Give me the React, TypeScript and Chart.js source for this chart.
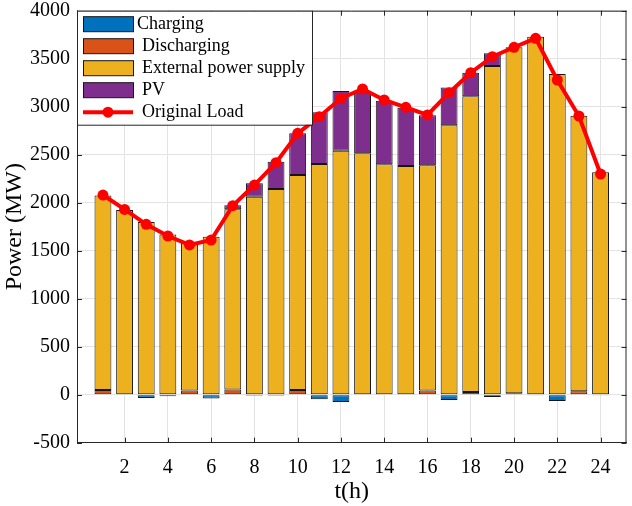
// Hourly power balance: stacked supply bars with the original load curve.

import { useEffect, useRef } from "react";
import { Chart, registerables } from "chart.js";
import type { Plugin } from "chart.js";

Chart.register(...registerables);

const hours = [1, 2, 3, 4, 5, 6, 7, 8, 9, 10, 11, 12, 13, 14, 15, 16, 17, 18, 19, 20, 21, 22, 23, 24];
const charging = [0, 0, -35, -15, 0, -40, 0, -10, -10, 0, -48, -75, 0, 0, 0, 0, -55, 0, -25, 0, -8, -65, 0, -8];
const discharging = [50, 0, 0, 0, 45, 0, 55, 0, 0, 50, 0, 0, 5, 5, 0, 45, 0, 28, 0, 15, 0, 0, 35, 0];
const externalSupply = [2025, 1925, 1800, 1670, 1535, 1645, 1876, 2063, 2143, 2239, 2403, 2542, 2509, 2395, 2382, 2345, 2807, 3080, 3424, 3604, 3729, 3341, 2871, 2317];
const pv = [0, 0, 0, 0, 0, 0, 42, 139, 284, 434, 539, 622, 631, 663, 608, 520, 393, 246, 132, 0, 0, 0, 0, 0];
const originalLoad = [2080, 1930, 1775, 1653, 1560, 1611, 1969, 2184, 2417, 2723, 2896, 3087, 3185, 3070, 2993, 2914, 3146, 3354, 3521, 3619, 3712, 3278, 2903, 2299];
const xTicks = [2, 4, 6, 8, 10, 12, 14, 16, 18, 20, 22, 24];

const FONT = "'Liberation Serif', 'Times New Roman', serif";
const AXIS = "#262626";
const EDGE = "#141414";

const pts = (ys: number[]) => ys.map((y, i) => ({ x: hours[i], y }));

// MATLAB-style box: inward ticks on all four sides, top/right edges, legend inside.
const boxAndLegend: Plugin<"bar"> = {
  id: "boxAndLegend",
  afterDraw(chart) {
    const { ctx, chartArea: a } = chart;
    const xs = chart.scales.x;
    const ys = chart.scales.y;
    ctx.save();
    ctx.strokeStyle = AXIS;
    ctx.lineWidth = 1;
    ctx.beginPath();
    ctx.moveTo(a.left, a.top + 0.5);
    ctx.lineTo(a.right, a.top + 0.5);
    ctx.moveTo(a.right - 0.5, a.top);
    ctx.lineTo(a.right - 0.5, a.bottom);
    for (const t of ys.ticks) {
      const y = Math.round(ys.getPixelForValue(t.value)) + 0.5;
      ctx.moveTo(a.left, y);
      ctx.lineTo(a.left + 5, y);
      ctx.moveTo(a.right, y);
      ctx.lineTo(a.right - 5, y);
    }
    for (const t of xs.ticks) {
      const x = Math.round(xs.getPixelForValue(t.value)) + 0.5;
      ctx.moveTo(x, a.bottom);
      ctx.lineTo(x, a.bottom - 5);
      ctx.moveTo(x, a.top);
      ctx.lineTo(x, a.top + 5);
    }
    ctx.stroke();

    // legend
    const lx = a.left;
    const ly = a.top;
    const lw = 235;
    const lh = 114;
    ctx.fillStyle = "#fff";
    ctx.fillRect(lx, ly, lw, lh);
    ctx.strokeRect(lx + 0.5, ly + 0.5, lw, lh);
    ctx.font = `18px ${FONT}`;
    ctx.textBaseline = "middle";
    ctx.textAlign = "left";
    chart.data.datasets.forEach((ds: any, i: number) => {
      const cy = ly + 13.5 + i * 22;
      const sx = lx + 6;
      if (ds.type === "line") {
        ctx.strokeStyle = ds.borderColor;
        ctx.lineWidth = 4;
        ctx.beginPath();
        ctx.moveTo(sx, cy);
        ctx.lineTo(sx + 50, cy);
        ctx.stroke();
        ctx.fillStyle = ds.borderColor;
        ctx.beginPath();
        ctx.arc(sx + 25, cy, 5.5, 0, Math.PI * 2);
        ctx.fill();
      } else {
        ctx.fillStyle = ds.backgroundColor;
        ctx.fillRect(sx, cy - 7.5, 50, 15);
        ctx.strokeStyle = EDGE;
        ctx.lineWidth = 1;
        ctx.strokeRect(sx + 0.5, cy - 7.5, 50, 15);
      }
      ctx.fillStyle = "#000";
      ctx.fillText(ds.label, lx + (i === 0 ? 60 : 65), cy);
    });
    ctx.restore();
  },
};

export default function App() {
  const ref = useRef<HTMLCanvasElement>(null);

  useEffect(() => {
    document.body.style.margin = "0";
    if (!ref.current) return;
    const barStyle = { borderColor: EDGE, borderWidth: 1, borderSkipped: false as const, stack: "p", order: 1 };
    const chart = new Chart(ref.current, {
      type: "bar",
      data: {
        datasets: [
          { label: "Charging", data: pts(charging), backgroundColor: "#0072BD", ...barStyle },
          { label: "Discharging", data: pts(discharging), backgroundColor: "#D95319", ...barStyle },
          { label: "External power supply", data: pts(externalSupply), backgroundColor: "#EDB120", ...barStyle },
          { label: "PV", data: pts(pv), backgroundColor: "#7E2F8E", ...barStyle },
          {
            type: "line" as any,
            label: "Original Load",
            data: pts(originalLoad),
            borderColor: "#FF0000",
            backgroundColor: "#FF0000",
            borderWidth: 4,
            pointRadius: 5.5,
            pointBorderWidth: 0,
            pointBackgroundColor: "#FF0000",
            order: 0,
          } as any,
        ],
      },
      options: {
        responsive: false,
        animation: false,
        layout: { padding: { top: 10.7, right: 5, left: 0, bottom: 0 } },
        datasets: { bar: { categoryPercentage: 1, barPercentage: 0.78 } },
        plugins: { legend: { display: false }, tooltip: { enabled: false } },
        scales: {
          x: {
            type: "linear",
            stacked: true,
            offset: false,
            min: -0.2,
            max: 25.2,
            afterBuildTicks: (s) => { s.ticks = xTicks.map((v) => ({ value: v })); },
            afterFit: (s) => { s.height = 63.3; s.paddingLeft = 0; s.paddingRight = 0; },
            ticks: { font: { family: FONT, size: 20 }, color: "#000", padding: 13, autoSkip: false, maxRotation: 0, callback: (v) => String(v) },
            grid: { color: "#e3e3e3", drawTicks: false, offset: false },
            border: { color: AXIS, width: 1 },
            title: { display: true, text: "t(h)", font: { family: FONT, size: 24 }, color: "#000", padding: 0 },
          },
          y: {
            stacked: true,
            min: -500,
            max: 4000,
            afterFit: (s) => { s.width = 77; s.paddingTop = 0; s.paddingBottom = 0; },
            ticks: { stepSize: 500, font: { family: FONT, size: 20 }, color: "#000", padding: 7, callback: (v) => String(v) },
            grid: { color: "#e3e3e3", drawTicks: false },
            border: { color: AXIS, width: 1 },
            title: { display: true, text: "Power (MW)", font: { family: FONT, size: 24 }, color: "#000", padding: 0 },
          },
        },
      },
      plugins: [boxAndLegend],
    });
    return () => chart.destroy();
  }, []);

  return (
    <div style={{ width: 632, height: 506, background: "#fff" }}>
      <canvas ref={ref} width={632} height={506} role="img" aria-label="Stacked bar chart of hourly power supply with original load line" />
    </div>
  );
}
